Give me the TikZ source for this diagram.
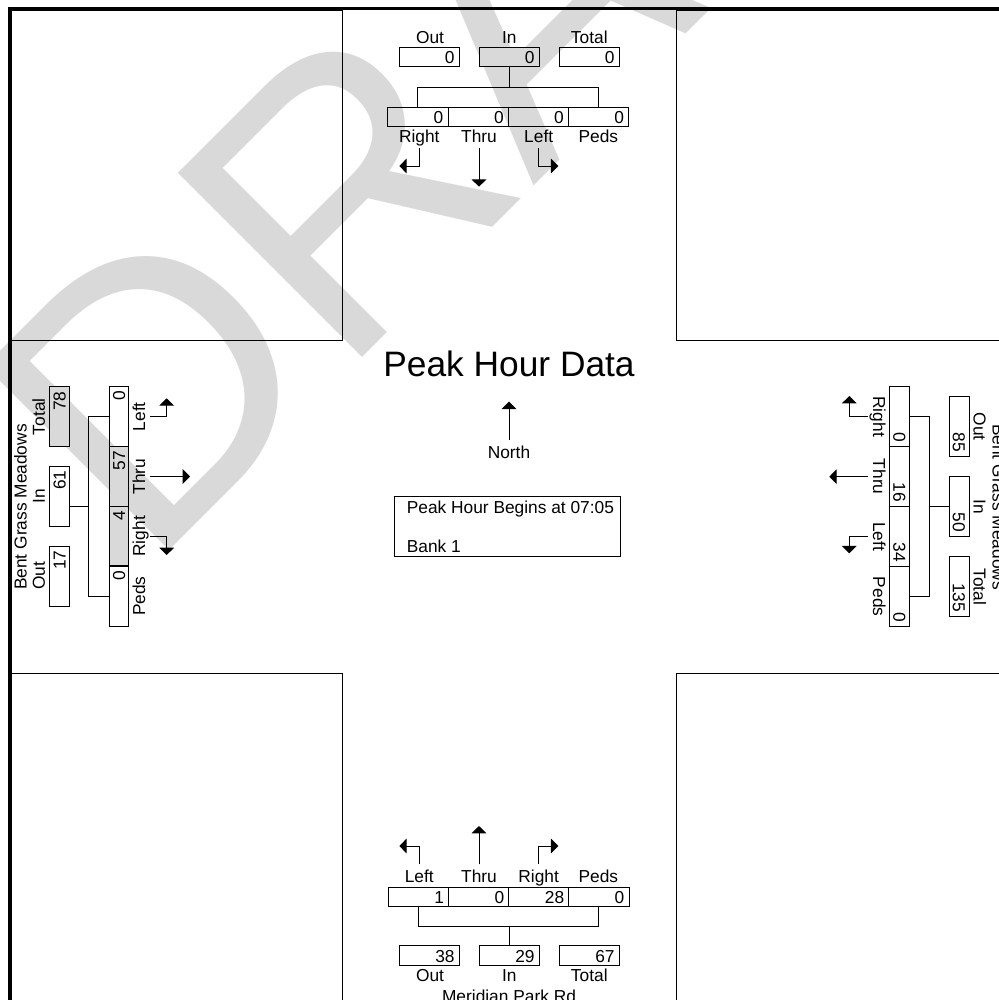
\documentclass[tikz,border=0pt]{standalone}
\usepackage{fontspec}
\setmainfont{Liberation Sans}
\usetikzlibrary{arrows.meta}
\definecolor{wm}{RGB}{217,217,217}
\begin{document}
\begin{tikzpicture}[x=0.75pt,y=-0.75pt,line width=0.75pt,
  lbl/.style={font=\fontsize{13}{15}\selectfont, inner xsep=1pt, inner ysep=3.5pt,
              text height=9.5pt, text depth=0pt},
  num/.style={draw, font=\fontsize{13}{15}\selectfont, minimum height=14.6pt,
              inner ysep=0pt, inner xsep=3.5pt, text width=38pt, align=right,
              text height=9.5pt, text depth=0pt},
  cell/.style={num, text width=38.2pt},
  shaded/.style={fill=wm},
  arr/.style={-{Triangle[length=5.5pt,width=11pt]}},
  title/.style={font=\fontsize{26.5}{30}\selectfont, inner sep=0pt},
  wmark/.style={text=wm, inner sep=0pt, font=\fontsize{284}{284}\selectfont}]

\useasboundingbox (0,0) rectangle (999,1000);
\clip (0,0) rectangle (999,1000);

% watermark
\node[wmark, rotate=45, anchor=base west] (draft) at (147,573) {DRAFT};

% page frame and street corners
\draw[line width=2.5pt] (10,8.5) rectangle (1008,1004);
\draw (10,10) rectangle (342.3,340);
\draw (676,10) rectangle (1008,340);
\draw (10,673.3) rectangle (342.3,1004);
\draw (676,673.3) rectangle (1008,1004);

% ---------- north approach ----------
\node[lbl,anchor=base] (tOutL) at (430,43.3) {Out};
\node[lbl,anchor=base] (tInL) at (509.3,43.3) {In};
\node[lbl,anchor=base] (tTotL) at (589.3,43.3) {Total};
\node[num] (tOut) at (429.3,57.1) {0};
\node[num,shaded] (tIn) at (509.3,57.1) {0};
\node[num] (tTot) at (589.3,57.1) {0};
\node[cell] (tRv) at (417.9,117) {0};
\node[cell] (tTv) at (478.2,117) {0};
\node[cell] (tLv) at (538.4,117) {0};
\node[cell] (tPv) at (598.6,117) {0};
\coordinate (tJ) at (509.3,87.3);
\draw (tIn.south) -- (tJ);
\draw (tRv.north) |- (tJ) -| (tPv.north);
\node[lbl,anchor=base] (tRl) at (419.3,142.7) {Right};
\node[lbl,anchor=base] (tTl) at (479,142.7) {Thru};
\node[lbl,anchor=base] (tLl) at (538.7,142.7) {Left};
\node[lbl,anchor=base] (tPl) at (598.3,142.7) {Peds};
\coordinate (tRa) at (399.3,166);
\coordinate (tTa) at (479,186.7);
\coordinate (tLa) at (558.3,166);
\draw[arr] (tRl.south) |- (tRa);
\draw[arr] (tTl.south) -- (tTa);
\draw[arr] (tLl.south) |- (tLa);

% ---------- south approach ----------
\node[lbl,anchor=base] (bLl) at (419.3,882.3) {Left};
\node[lbl,anchor=base] (bTl) at (479,882.3) {Thru};
\node[lbl,anchor=base] (bRl) at (538.7,882.3) {Right};
\node[lbl,anchor=base] (bPl) at (598.3,882.3) {Peds};
\coordinate (bLa) at (399.3,846);
\coordinate (bTa) at (479,826);
\coordinate (bRa) at (558.3,846);
\draw[arr] (bLl.north) |- (bLa);
\draw[arr] (bTl.north) -- (bTa);
\draw[arr] (bRl.north) |- (bRa);
\node[cell] (bLv) at (418.6,897) {1};
\node[cell] (bTv) at (478.7,897) {0};
\node[cell] (bRv) at (538.8,897) {28};
\node[cell] (bPv) at (598.9,897) {0};
\node[num] (bOut) at (429.3,955.7) {38};
\node[num] (bIn) at (509.3,955.7) {29};
\node[num] (bTot) at (589.3,955.7) {67};
\coordinate (bJ) at (509.3,926);
\draw (bLv.south) |- (bJ) -| (bPv.south);
\draw (bJ) -- (bIn.north);
\node[lbl,anchor=base] (bOutL) at (430,981.7) {Out};
\node[lbl,anchor=base] (bInL) at (509.3,981.7) {In};
\node[lbl,anchor=base] (bTotL) at (589.3,981.7) {Total};
\node[lbl,anchor=base] (bName) at (509,1002.9) {Meridian Park Rd};

% ---------- west approach ----------
\node[lbl,anchor=base,rotate=90] (lName) at (26.5,507) {Bent Grass Meadows};
\node[lbl,anchor=base,rotate=90] (lTotL) at (45,416.7) {Total};
\node[lbl,anchor=base,rotate=90] (lInL) at (45,496) {In};
\node[lbl,anchor=base,rotate=90] (lOutL) at (45,576) {Out};
\node[num,rotate=90,shaded] (lTot) at (59.3,416.7) {78};
\node[num,rotate=90] (lIn) at (59.3,496) {61};
\node[num,rotate=90] (lOut) at (59.3,576) {17};
\node[cell,rotate=90] (lLv) at (118.8,416.7) {0};
\node[cell,rotate=90,shaded] (lTv) at (118.8,476.5) {57};
\node[cell,rotate=90,shaded] (lRv) at (118.8,536.3) {4};
\node[cell,rotate=90] (lPv) at (118.8,596.1) {0};
\coordinate (lJ) at (88.3,506);
\draw (lLv.north) -| (lJ) |- (lPv.north);
\draw (lJ) -- (lJ -| lIn.south);
\node[lbl,anchor=base,rotate=90] (lLl) at (145,416.7) {Left};
\node[lbl,anchor=base,rotate=90] (lTl) at (145,476.5) {Thru};
\node[lbl,anchor=base,rotate=90] (lRl) at (145,536.3) {Right};
\node[lbl,anchor=base,rotate=90] (lPl) at (145,596.1) {Peds};
\coordinate (lLa) at (166.7,398.3);
\coordinate (lTa) at (190,476.5);
\coordinate (lRa) at (166.7,555);
\draw[arr] (lLl.south) -| (lLa);
\draw[arr] (lTl.south) -- (lTa);
\draw[arr] (lRl.south) -| (lRa);

% ---------- east approach ----------
\node[lbl,anchor=base,rotate=-90] (rName) at (992.5,507) {Bent Grass Meadows};
\node[lbl,anchor=base,rotate=-90] (rOutL) at (973.5,426.7) {Out};
\node[lbl,anchor=base,rotate=-90] (rInL) at (973.5,506.7) {In};
\node[lbl,anchor=base,rotate=-90] (rTotL) at (973.5,586.7) {Total};
\node[num,rotate=-90] (rOut) at (959.3,426.7) {85};
\node[num,rotate=-90] (rIn) at (959.3,506.7) {50};
\node[num,rotate=-90] (rTot) at (959.3,586.7) {135};
\node[cell,rotate=-90] (rRv) at (899.65,416.7) {0};
\node[cell,rotate=-90] (rTv) at (899.65,476.7) {16};
\node[cell,rotate=-90] (rLv) at (899.65,536.7) {34};
\node[cell,rotate=-90] (rPv) at (899.65,596.7) {0};
\coordinate (rJ) at (929.3,506.7);
\draw (rRv.north) -| (rJ) |- (rPv.north);
\draw (rJ) -- (rIn.south);
\node[lbl,anchor=base,rotate=-90] (rRl) at (873,416.7) {Right};
\node[lbl,anchor=base,rotate=-90] (rTl) at (873,476.7) {Thru};
\node[lbl,anchor=base,rotate=-90] (rLl) at (873,536.7) {Left};
\node[lbl,anchor=base,rotate=-90] (rPl) at (873,596.7) {Peds};
\coordinate (rRa) at (849.3,396);
\coordinate (rTa) at (829.3,476.7);
\coordinate (rLa) at (849.3,553.3);
\draw[arr] (rRl.south) -| (rRa);
\draw[arr] (rTl.south) -- (rTa);
\draw[arr] (rLl.south) -| (rLa);

% ---------- centre ----------
\node[title,anchor=base] (title) at (509,376) {Peak Hour Data};
\node[lbl,anchor=base] (north) at (509,458.3) {North};
\coordinate (nTip) at (509,401.7);
\draw[arr] (north.north) -- (nTip);
\node[draw, minimum width=169.3pt, minimum height=45pt, inner sep=0pt] (info) at (507.15,526.7) {};
\node[lbl,anchor=base west] (infoA) at (405,513.3) {Peak Hour Begins at 07:05};
\node[lbl,anchor=base west] (infoB) at (405,552.7) {Bank 1};
\end{tikzpicture}
\end{document}
